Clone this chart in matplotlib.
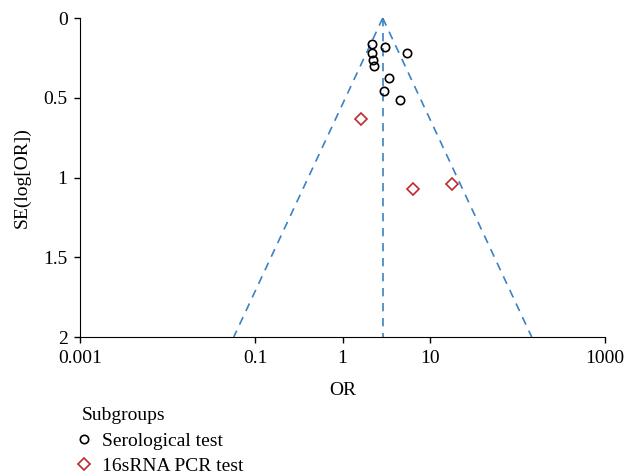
import matplotlib
matplotlib.use("Agg")
import matplotlib.pyplot as plt
import numpy as np

plt.rcParams['font.family'] = ['Liberation Serif', 'DejaVu Serif']

# pooled estimate (centre of funnel)
pooled_or = 2.88

# Serological test studies
sero_or = [2.19, 3.06, 5.5, 2.16, 2.21, 2.31, 3.40, 3.0, 4.58]
sero_se = [0.163, 0.18, 0.217, 0.217, 0.263, 0.30, 0.374, 0.458, 0.516]

# 16sRNA PCR test studies
pcr_or = [1.61, 6.45, 17.8]
pcr_se = [0.631, 1.074, 1.043]

xticks = [0.001, 0.1, 1, 10, 1000]
xticklabels = ["0.001", "0.1", "1", "10", "1000"]
yticks = [0, 0.5, 1, 1.5, 2]
yticklabels = ["0", "0.5", "1", "1.5", "2"]

fs = 14

fig = plt.figure(figsize=(6.27, 4.76), dpi=100)
ax = fig.add_axes([0.1276, 0.292, 0.8374, 0.670])

se_line = np.array([0, 2])
blue = '#3b82c4'
ax.plot(pooled_or * np.exp(-1.96 * se_line), se_line, color=blue, ls=(0, (5, 4)), lw=1.2)
ax.plot(pooled_or * np.exp(1.96 * se_line), se_line, color=blue, ls=(0, (5, 4)), lw=1.2)
ax.plot([pooled_or, pooled_or], se_line, color=blue, ls=(0, (5, 4)), lw=1.2)

ax.plot(sero_or, sero_se, ls='none', marker='o', markersize=6, markerfacecolor='none',
        markeredgecolor='black', markeredgewidth=1.2, label='Serological test')
ax.plot(pcr_or, pcr_se, ls='none', marker='D', markersize=6.5, markerfacecolor='none',
        markeredgecolor='#c0282d', markeredgewidth=1.2, label='16sRNA PCR test')

ax.set_xscale('log')
ax.set_xlim(0.001, 1000)
ax.set_ylim(2, 0)
ax.set_xticks(xticks)
ax.set_xticklabels(xticklabels)
ax.xaxis.set_minor_locator(matplotlib.ticker.NullLocator())
ax.set_yticks(yticks)
ax.set_yticklabels(yticklabels)

for s in ['top', 'right']:
    ax.spines[s].set_visible(False)
ax.tick_params(labelsize=fs, direction='out', length=4, width=1, pad=5)
ax.set_xlabel('OR', fontsize=fs, labelpad=11)
ax.set_ylabel('SE(log[OR])', fontsize=fs, labelpad=9)

leg = ax.legend(loc='upper left', bbox_to_anchor=(0.130, 0.144), bbox_transform=fig.transFigure,
                frameon=False, title='Subgroups', fontsize=fs, title_fontsize=fs,
                alignment='left', handletextpad=0.75, handlelength=0.3, borderaxespad=0,
                borderpad=0, labelspacing=0.4)

fig.savefig('out.png', dpi=100)
